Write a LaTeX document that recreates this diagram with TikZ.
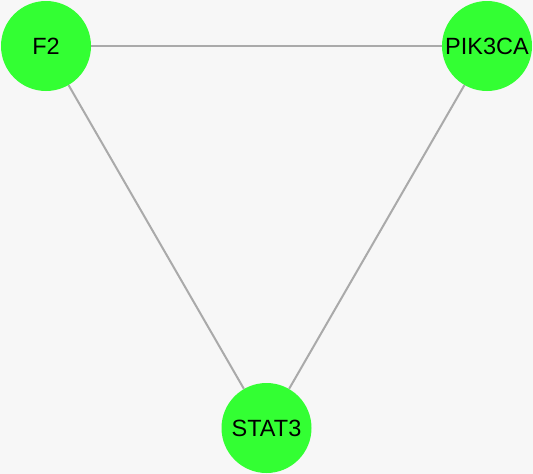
\documentclass[tikz,border=0pt]{standalone}
\usepackage{fontspec}
\setmainfont{Liberation Sans}
\definecolor{bg}{RGB}{247,247,247}
\definecolor{nodegreen}{RGB}{51,255,51}
\definecolor{edgegray}{RGB}{170,170,170}
\begin{document}
\begin{tikzpicture}[x=1pt,y=-1pt,
  gene/.style={circle,fill=nodegreen,draw=none,minimum size=90pt,inner sep=0pt,font=\fontsize{23.5}{26}\selectfont},
  link/.style={draw=edgegray,line width=2pt}]
\fill[bg] (0,0) rectangle (533,474);
\useasboundingbox (0,0) rectangle (533,474);
\node[gene] (F2) at (46,46) {F2};
\node[gene] (PIK3CA) at (487,46) {PIK3CA};
\node[gene] (STAT3) at (266.5,428) {STAT3};
\begin{scope}[on background layer/.try]
\end{scope}
\path[link] (F2) -- (PIK3CA);
\path[link] (F2) -- (STAT3);
\path[link] (PIK3CA) -- (STAT3);
\end{tikzpicture}
\end{document}
